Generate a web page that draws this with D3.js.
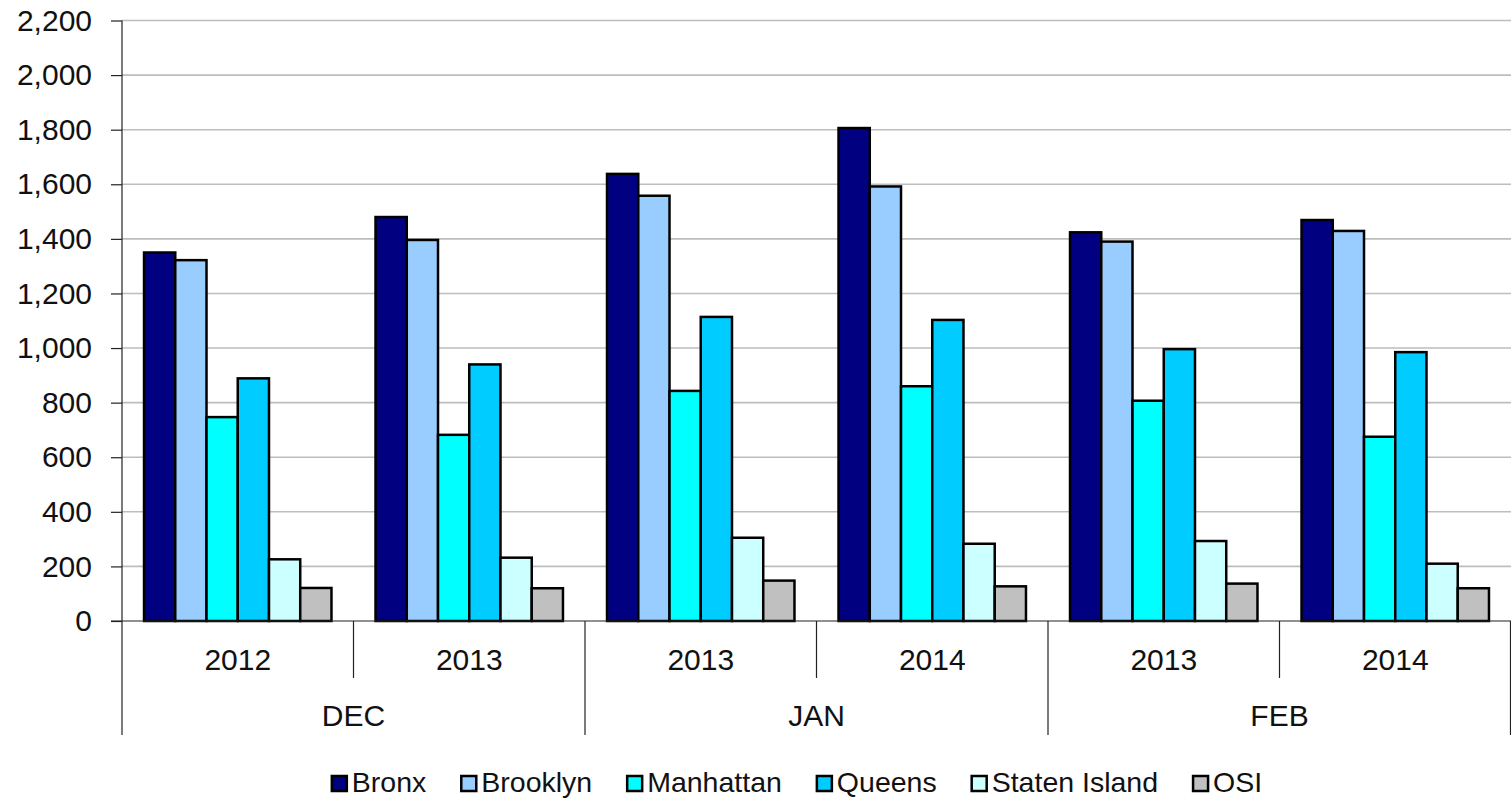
<!DOCTYPE html>
<html>
<head>
<meta charset="utf-8">
<script src="https://cdn.jsdelivr.net/npm/d3@7"></script>
<style>
  html, body { margin: 0; padding: 0; background: #fff; }
  svg { display: block; font-family: "Liberation Sans", Arial, sans-serif; }
</style>
</head>
<body>
<svg id="chart" width="1511" height="799"></svg>
<script>
// ---- data ----
const months = ["DEC", "JAN", "FEB"];
const years = [["2012", "2013"], ["2013", "2014"], ["2013", "2014"]];
const series = ["Bronx", "Brooklyn", "Manhattan", "Queens", "Staten Island", "OSI"];
const colors = ["#000080", "#99CCFF", "#00FFFF", "#00CCFF", "#CCFFFF", "#C0C0C0"];
const bronx    = [1350, 1480, 1638, 1806, 1424, 1469];
const brooklyn = [1322, 1396, 1558, 1592, 1390, 1429];
const manhattan= [ 747,  682,  843,  860,  807,  675];
const queens   = [ 889,  940, 1114, 1103,  996,  985];
const staten   = [ 226,  232,  305,  283,  293,  210];
const osi      = [ 121,  120,  148,  127,  137,  120];
const yTicks = [0, 200, 400, 600, 800, 1000, 1200, 1400, 1600, 1800, 2000, 2200];

const values = [bronx, brooklyn, manhattan, queens, staten, osi];
const groups = [];
months.forEach((m, i) => years[i].forEach(yr => groups.push({ key: m + "-" + yr, month: m, year: yr })));

// ---- layout ----
const svg = d3.select("#chart");
const plotL = 122, plotR = 1511, plotT = 20.5, plotB = 621;

const x0 = d3.scaleBand().domain(groups.map(g => g.key)).range([plotL, plotR]).padding(0);
const x1 = d3.scaleBand().domain(series).range([0, x0.bandwidth()]).paddingInner(0).paddingOuter(0.705);
const y = d3.scaleLinear().domain([0, 2200]).range([plotB, plotT]);

// gridlines
svg.append("g").selectAll("line").data(yTicks.filter(d => d > 0)).join("line")
  .attr("x1", plotL).attr("x2", plotR)
  .attr("y1", d => y(d)).attr("y2", d => y(d))
  .attr("stroke", "#bdbdbd").attr("stroke-width", 1.6);

// bars
const gGroups = svg.append("g").selectAll("g").data(groups).join("g")
  .attr("transform", d => `translate(${x0(d.key)},0)`);
gGroups.selectAll("rect")
  .data((g, gi) => series.map((s, si) => ({ s, si, v: values[si][gi] })))
  .join("rect")
  .attr("x", d => x1(d.s))
  .attr("width", x1.bandwidth())
  .attr("y", d => y(d.v))
  .attr("height", d => y(0) - y(d.v))
  .attr("fill", d => colors[d.si])
  .attr("stroke", "#000").attr("stroke-width", 2.5);

// y axis
const yAxis = svg.append("g").attr("transform", `translate(${plotL},0)`)
  .call(d3.axisLeft(y).tickValues(yTicks).tickFormat(d3.format(",")).tickSize(11).tickPadding(19));
yAxis.select(".domain").attr("stroke", "#222").attr("stroke-width", 1.2).attr("d", `M0,${plotT}V${plotB}`);
yAxis.selectAll(".tick line").attr("stroke", "#222").attr("stroke-width", 1.2);
yAxis.selectAll(".tick text").attr("font-size", 30).attr("fill", "#111")
  .attr("font-family", '"Liberation Sans", Arial, sans-serif');

// baseline
svg.append("line").attr("x1", plotL - 11).attr("x2", plotR).attr("y1", plotB).attr("y2", plotB)
  .attr("stroke", "#222").attr("stroke-width", 1.2);

// category axis (two level)
const catG = svg.append("g");
groups.forEach((g, i) => {
  const xs = x0(g.key);
  const isMonthStart = (i % 2 === 0);
  catG.append("line").attr("x1", xs).attr("x2", xs).attr("y1", plotB)
    .attr("y2", isMonthStart ? 735 : 678).attr("stroke", "#222").attr("stroke-width", 1.2);
});
catG.append("line").attr("x1", plotR - 0.5).attr("x2", plotR - 0.5).attr("y1", plotB).attr("y2", 735)
  .attr("stroke", "#222").attr("stroke-width", 1.2);

catG.selectAll("text.year").data(groups).join("text").attr("class", "year")
  .attr("x", d => x0(d.key) + x0.bandwidth() / 2).attr("y", 670)
  .attr("text-anchor", "middle").attr("font-size", 30).attr("fill", "#111").text(d => d.year);

catG.selectAll("text.month").data(months).join("text").attr("class", "month")
  .attr("x", (m, i) => x0(groups[i * 2].key) + x0.bandwidth())
  .attr("y", 726).attr("text-anchor", "middle").attr("font-size", 30).attr("fill", "#111").text(m => m);

// legend
const legend = svg.append("g");
const sq = 15, gapTxt = 5, gapItem = 35, fs = 28.5;
const items = [];
series.forEach((s, i) => {
  const it = legend.append("g");
  it.append("rect").attr("x", 0).attr("y", -sq - 1).attr("width", sq).attr("height", sq)
    .attr("fill", colors[i]).attr("stroke", "#000").attr("stroke-width", 2.5);
  const t = it.append("text").attr("x", sq + gapTxt).attr("y", 0).attr("font-size", fs).attr("fill", "#111").text(s);
  const w = sq + gapTxt + t.node().getComputedTextLength();
  items.push({ it, w });
});
const total = d3.sum(items, d => d.w) + gapItem * (items.length - 1);
let lx = 796 - total / 2;
items.forEach(d => { d.it.attr("transform", `translate(${lx + 1},792)`); lx += d.w + gapItem; });
</script>
</body>
</html>
